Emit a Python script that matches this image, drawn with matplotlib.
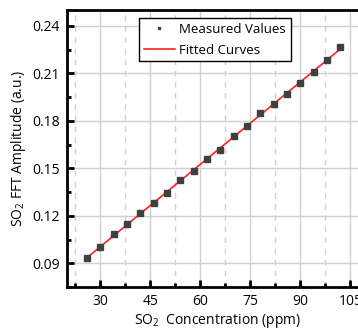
import matplotlib
matplotlib.use("Agg")
import matplotlib.pyplot as plt
import numpy as np
from matplotlib.ticker import MultipleLocator

plt.rcParams['font.family'] = ['Open Sans', 'DejaVu Sans']
plt.rcParams['mathtext.fontset'] = 'custom'
plt.rcParams['mathtext.rm'] = 'Open Sans'
plt.rcParams['mathtext.it'] = 'Open Sans:italic'

concentration = [26, 30, 34, 38, 42, 46, 50, 54, 58, 62, 66, 70, 74, 78, 82, 86, 90, 94, 98, 102]
amplitude = [0.0931, 0.1002, 0.1084, 0.1145, 0.1216, 0.1281, 0.1347, 0.1427, 0.1486, 0.1559,
             0.1615, 0.1705, 0.1770, 0.1852, 0.1906, 0.1971, 0.2040, 0.2107, 0.2182, 0.2264]
x_ticks = [30, 45, 60, 75, 90, 105]
y_ticks = [0.09, 0.12, 0.15, 0.18, 0.21, 0.24]

x = np.array(concentration)
y = np.array(amplitude)
coef = np.polyfit(x, y, 1)
fit_y = np.polyval(coef, x)

fig = plt.figure(figsize=(3.58, 3.34), dpi=100)
ax = fig.add_axes([67/358, 47/334, 300/358, 277/334])

ax.grid(True, which='major', color='#d0d0d0', lw=1.0, ls='-')
ax.grid(True, which='minor', axis='x', color='#d0d0d0', lw=1.0, ls=(0, (4, 4)))
ax.set_axisbelow(True)

ax.plot(x, fit_y, color='#ff2020', lw=1.2, label='Fitted Curves', zorder=3)
ax.plot(x, y, ls='none', marker='s', ms=4.5, color='#404040', label='Measured Values', zorder=4)

ax.set_xlim(20, 110)
ax.set_ylim(0.075, 0.25)
ax.set_xticks(x_ticks)
ax.set_yticks(y_ticks)
ax.set_xticklabels([str(t) for t in x_ticks])
ax.set_yticklabels([f"{t:.2f}" for t in y_ticks])
ax.xaxis.set_minor_locator(MultipleLocator(7.5))
ax.yaxis.set_minor_locator(MultipleLocator(0.015))

ax.tick_params(which='major', direction='in', length=5, width=2, labelsize=10, colors='black', pad=5)
ax.tick_params(which='minor', direction='in', length=3, width=2)
for s in ax.spines.values():
    s.set_linewidth(2)

ax.set_xlabel(r'SO$_2$  Concentration (ppm)', fontsize=10, labelpad=2)
ax.set_ylabel(r'SO$_2$ FFT Amplitude (a.u.)', fontsize=10, labelpad=3)

h, l = ax.get_legend_handles_labels()
leg = ax.legend([h[1], h[0]], [l[1], l[0]], loc='upper left', bbox_to_anchor=(72/300, 1 - 8/277),
                fontsize=9.5, frameon=True, fancybox=False, edgecolor='black', framealpha=1,
                borderpad=0.35, handlelength=2.4, handletextpad=0.3, labelspacing=0.6,
                borderaxespad=0, markerscale=0.45)
leg.get_frame().set_linewidth(1.0)

fig.savefig('out.png', dpi=100)
